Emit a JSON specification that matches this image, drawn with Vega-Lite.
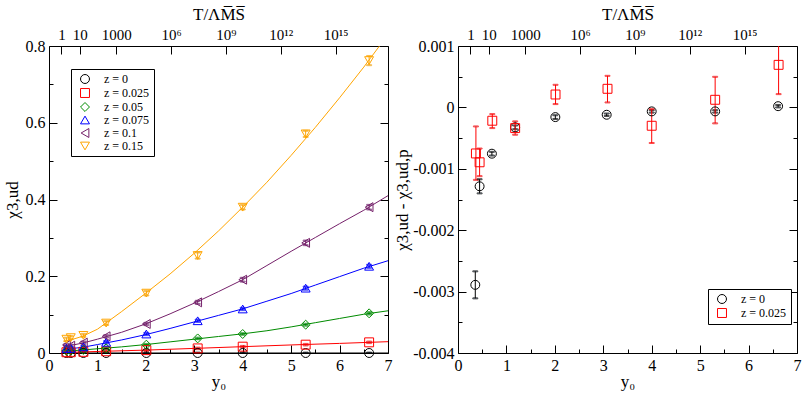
{
  "$schema": "https://vega.github.io/schema/vega-lite/v6.json",
  "padding": {"left": 2, "top": 4, "right": 2, "bottom": 2},
  "spacing": 0,
  "config": {
    "font": "Liberation Serif",
    "view": {"stroke": "#000", "strokeWidth": 1},
    "axis": {
      "grid": false, "domain": false,
      "labelFont": "Liberation Serif", "titleFont": "Liberation Serif",
      "labelFontSize": 16, "titleFontSize": 17, "titleFontWeight": "normal",
      "labelColor": "#000", "titleColor": "#000", "tickColor": "#000", "tickWidth": 1,
      "labelPadding": 12, "labelOverlap": false, "labelFlush": false
    },
    "legend": {
      "strokeColor": "#000", "fillColor": "#fff", "padding": 4, "symbolOffset": 4,
      "labelFont": "Liberation Serif", "labelFontSize": 12, "labelColor": "#000",
      "symbolSize": 80, "symbolStrokeWidth": 1, "rowPadding": 0, "labelOffset": 13,
      "cornerRadius": 0
    }
  },
  "datasets": {
    "ttick": [{"logT": 0}, {"logT": 1}, {"logT": 3}, {"logT": 6}, {"logT": 9}, {"logT": 12}, {"logT": 15}],
    "pts": [
      {"z": 0, "y0": 0.36, "val": 0, "lo": -0.001, "hi": 0.001},
      {"z": 0, "y0": 0.45, "val": 0, "lo": -0.001, "hi": 0.001},
      {"z": 0, "y0": 0.71, "val": 0, "lo": -0.001, "hi": 0.001},
      {"z": 0, "y0": 1.18, "val": 0, "lo": -0.001, "hi": 0.001},
      {"z": 0, "y0": 2.01, "val": 0, "lo": -0.001, "hi": 0.001},
      {"z": 0, "y0": 3.07, "val": 0, "lo": -0.001, "hi": 0.001},
      {"z": 0, "y0": 4.0, "val": 0, "lo": -0.001, "hi": 0.001},
      {"z": 0, "y0": 5.3, "val": 0, "lo": -0.001, "hi": 0.001},
      {"z": 0, "y0": 6.61, "val": 0, "lo": -0.001, "hi": 0.001},
      {"z": 0.025, "y0": 0.36, "val": 0.002, "lo": 0.0, "hi": 0.004},
      {"z": 0.025, "y0": 0.45, "val": 0.002, "lo": 0.0, "hi": 0.004},
      {"z": 0.025, "y0": 0.71, "val": 0.003, "lo": 0.001, "hi": 0.005},
      {"z": 0.025, "y0": 1.18, "val": 0.0045, "lo": 0.0025, "hi": 0.0065},
      {"z": 0.025, "y0": 2.01, "val": 0.0075, "lo": 0.0055, "hi": 0.0095},
      {"z": 0.025, "y0": 3.07, "val": 0.012, "lo": 0.01, "hi": 0.014},
      {"z": 0.025, "y0": 4.0, "val": 0.0165, "lo": 0.0145, "hi": 0.0185},
      {"z": 0.025, "y0": 5.3, "val": 0.0217, "lo": 0.0197, "hi": 0.0237},
      {"z": 0.025, "y0": 6.61, "val": 0.0278, "lo": 0.0258, "hi": 0.0298},
      {"z": 0.05, "y0": 0.36, "val": 0.006, "lo": 0.004, "hi": 0.008},
      {"z": 0.05, "y0": 0.45, "val": 0.006, "lo": 0.004, "hi": 0.008},
      {"z": 0.05, "y0": 0.71, "val": 0.008, "lo": 0.006, "hi": 0.01},
      {"z": 0.05, "y0": 1.18, "val": 0.012, "lo": 0.01, "hi": 0.014},
      {"z": 0.05, "y0": 2.01, "val": 0.0217, "lo": 0.0197, "hi": 0.0237},
      {"z": 0.05, "y0": 3.07, "val": 0.038, "lo": 0.036, "hi": 0.04},
      {"z": 0.05, "y0": 4.0, "val": 0.0495, "lo": 0.0475, "hi": 0.0515},
      {"z": 0.05, "y0": 5.3, "val": 0.0738, "lo": 0.0713, "hi": 0.0763},
      {"z": 0.05, "y0": 6.61, "val": 0.1034, "lo": 0.1004, "hi": 0.1064},
      {"z": 0.075, "y0": 0.36, "val": 0.012, "lo": 0.009, "hi": 0.015},
      {"z": 0.075, "y0": 0.45, "val": 0.012, "lo": 0.009, "hi": 0.015},
      {"z": 0.075, "y0": 0.71, "val": 0.016, "lo": 0.013, "hi": 0.019},
      {"z": 0.075, "y0": 1.18, "val": 0.028, "lo": 0.025, "hi": 0.031},
      {"z": 0.075, "y0": 2.01, "val": 0.0495, "lo": 0.0465, "hi": 0.0525},
      {"z": 0.075, "y0": 3.07, "val": 0.084, "lo": 0.081, "hi": 0.087},
      {"z": 0.075, "y0": 4.0, "val": 0.1147, "lo": 0.1117, "hi": 0.1177},
      {"z": 0.075, "y0": 5.3, "val": 0.169, "lo": 0.165, "hi": 0.173},
      {"z": 0.075, "y0": 6.61, "val": 0.226, "lo": 0.222, "hi": 0.23},
      {"z": 0.1, "y0": 0.36, "val": 0.021, "lo": 0.018, "hi": 0.024},
      {"z": 0.1, "y0": 0.45, "val": 0.019, "lo": 0.016, "hi": 0.022},
      {"z": 0.1, "y0": 0.71, "val": 0.027, "lo": 0.024, "hi": 0.03},
      {"z": 0.1, "y0": 1.18, "val": 0.0435, "lo": 0.0405, "hi": 0.0465},
      {"z": 0.1, "y0": 2.01, "val": 0.0756, "lo": 0.0726, "hi": 0.0786},
      {"z": 0.1, "y0": 3.07, "val": 0.132, "lo": 0.128, "hi": 0.136},
      {"z": 0.1, "y0": 4.0, "val": 0.191, "lo": 0.186, "hi": 0.196},
      {"z": 0.1, "y0": 5.3, "val": 0.287, "lo": 0.281, "hi": 0.293},
      {"z": 0.1, "y0": 6.61, "val": 0.38, "lo": 0.374, "hi": 0.386},
      {"z": 0.15, "y0": 0.36, "val": 0.036, "lo": 0.032, "hi": 0.04},
      {"z": 0.15, "y0": 0.45, "val": 0.04, "lo": 0.036, "hi": 0.044},
      {"z": 0.15, "y0": 0.71, "val": 0.046, "lo": 0.042, "hi": 0.05},
      {"z": 0.15, "y0": 1.18, "val": 0.078, "lo": 0.073, "hi": 0.083},
      {"z": 0.15, "y0": 2.01, "val": 0.156, "lo": 0.15, "hi": 0.162},
      {"z": 0.15, "y0": 3.07, "val": 0.254, "lo": 0.246, "hi": 0.262},
      {"z": 0.15, "y0": 4.0, "val": 0.38, "lo": 0.374, "hi": 0.386},
      {"z": 0.15, "y0": 5.3, "val": 0.571, "lo": 0.563, "hi": 0.579},
      {"z": 0.15, "y0": 6.61, "val": 0.762, "lo": 0.75, "hi": 0.774}
    ],
    "fit": [
      {"z": 0, "y0": 0.3, "fit": 0}, {"z": 0, "y0": 7, "fit": 0},
      {"z": 0.025, "y0": 0.3, "fit": 0.0015}, {"z": 0.025, "y0": 0.5, "fit": 0.002}, {"z": 0.025, "y0": 1.0, "fit": 0.004},
      {"z": 0.025, "y0": 2.0, "fit": 0.0075}, {"z": 0.025, "y0": 3.0, "fit": 0.012}, {"z": 0.025, "y0": 4.0, "fit": 0.0165},
      {"z": 0.025, "y0": 5.0, "fit": 0.021}, {"z": 0.025, "y0": 6.0, "fit": 0.025}, {"z": 0.025, "y0": 7.0, "fit": 0.0295},
      {"z": 0.05, "y0": 0.3, "fit": 0.005}, {"z": 0.05, "y0": 0.5, "fit": 0.006}, {"z": 0.05, "y0": 0.7, "fit": 0.008},
      {"z": 0.05, "y0": 1.0, "fit": 0.011}, {"z": 0.05, "y0": 1.5, "fit": 0.016}, {"z": 0.05, "y0": 2.0, "fit": 0.022},
      {"z": 0.05, "y0": 2.5, "fit": 0.029}, {"z": 0.05, "y0": 3.0, "fit": 0.036}, {"z": 0.05, "y0": 3.5, "fit": 0.043},
      {"z": 0.05, "y0": 4.0, "fit": 0.05}, {"z": 0.05, "y0": 4.5, "fit": 0.058}, {"z": 0.05, "y0": 5.0, "fit": 0.068},
      {"z": 0.05, "y0": 5.5, "fit": 0.079}, {"z": 0.05, "y0": 6.0, "fit": 0.09}, {"z": 0.05, "y0": 6.5, "fit": 0.101},
      {"z": 0.05, "y0": 7.0, "fit": 0.11},
      {"z": 0.075, "y0": 0.3, "fit": 0.01}, {"z": 0.075, "y0": 0.5, "fit": 0.012}, {"z": 0.075, "y0": 0.7, "fit": 0.015},
      {"z": 0.075, "y0": 1.0, "fit": 0.022}, {"z": 0.075, "y0": 1.5, "fit": 0.034}, {"z": 0.075, "y0": 2.0, "fit": 0.048},
      {"z": 0.075, "y0": 2.5, "fit": 0.064}, {"z": 0.075, "y0": 3.0, "fit": 0.081}, {"z": 0.075, "y0": 3.5, "fit": 0.098},
      {"z": 0.075, "y0": 4.0, "fit": 0.115}, {"z": 0.075, "y0": 4.5, "fit": 0.135}, {"z": 0.075, "y0": 5.0, "fit": 0.155},
      {"z": 0.075, "y0": 5.5, "fit": 0.177}, {"z": 0.075, "y0": 6.0, "fit": 0.199}, {"z": 0.075, "y0": 6.5, "fit": 0.221},
      {"z": 0.075, "y0": 7.0, "fit": 0.2405},
      {"z": 0.1, "y0": 0.3, "fit": 0.018}, {"z": 0.1, "y0": 0.5, "fit": 0.021}, {"z": 0.1, "y0": 0.7, "fit": 0.026},
      {"z": 0.1, "y0": 1.0, "fit": 0.036}, {"z": 0.1, "y0": 1.5, "fit": 0.054}, {"z": 0.1, "y0": 2.0, "fit": 0.076},
      {"z": 0.1, "y0": 2.5, "fit": 0.102}, {"z": 0.1, "y0": 3.0, "fit": 0.13}, {"z": 0.1, "y0": 3.5, "fit": 0.16},
      {"z": 0.1, "y0": 4.0, "fit": 0.191}, {"z": 0.1, "y0": 4.5, "fit": 0.228}, {"z": 0.1, "y0": 5.0, "fit": 0.265},
      {"z": 0.1, "y0": 5.5, "fit": 0.301}, {"z": 0.1, "y0": 6.0, "fit": 0.337}, {"z": 0.1, "y0": 6.5, "fit": 0.372},
      {"z": 0.1, "y0": 7.0, "fit": 0.41},
      {"z": 0.15, "y0": 0.3, "fit": 0.03}, {"z": 0.15, "y0": 0.5, "fit": 0.036}, {"z": 0.15, "y0": 0.7, "fit": 0.044},
      {"z": 0.15, "y0": 1.0, "fit": 0.062}, {"z": 0.15, "y0": 1.5, "fit": 0.108}, {"z": 0.15, "y0": 2.0, "fit": 0.156},
      {"z": 0.15, "y0": 2.5, "fit": 0.206}, {"z": 0.15, "y0": 3.0, "fit": 0.26}, {"z": 0.15, "y0": 3.5, "fit": 0.318},
      {"z": 0.15, "y0": 4.0, "fit": 0.38}, {"z": 0.15, "y0": 4.5, "fit": 0.445}, {"z": 0.15, "y0": 5.0, "fit": 0.515},
      {"z": 0.15, "y0": 5.5, "fit": 0.588}, {"z": 0.15, "y0": 6.0, "fit": 0.665}, {"z": 0.15, "y0": 6.5, "fit": 0.745},
      {"z": 0.15, "y0": 7.0, "fit": 0.83}
    ],
    "diff": [
      {"z": 0, "y0": 0.357, "d": -0.00289, "lo": -0.00311, "hi": -0.00267},
      {"z": 0, "y0": 0.446, "d": -0.001285, "lo": -0.0014, "hi": -0.00117},
      {"z": 0, "y0": 0.70, "d": -0.000754, "lo": -0.000784, "hi": -0.000724},
      {"z": 0, "y0": 1.18, "d": -0.000325, "lo": -0.000355, "hi": -0.000295},
      {"z": 0, "y0": 2.01, "d": -0.000158, "lo": -0.000188, "hi": -0.000128},
      {"z": 0, "y0": 3.07, "d": -0.00012, "lo": -0.00014, "hi": -0.0001},
      {"z": 0, "y0": 4.0, "d": -0.000065, "lo": -0.000085, "hi": -0.000045},
      {"z": 0, "y0": 5.31, "d": -0.000065, "lo": -0.000085, "hi": -0.000045},
      {"z": 0, "y0": 6.61, "d": 0.00002, "lo": 0.0, "hi": 0.00004},
      {"z": 0.025, "y0": 0.37, "d": -0.00075, "lo": -0.00118, "hi": -0.00031},
      {"z": 0.025, "y0": 0.446, "d": -0.000894, "lo": -0.00112, "hi": -0.00067},
      {"z": 0.025, "y0": 0.708, "d": -0.000217, "lo": -0.000337, "hi": -0.000109},
      {"z": 0.025, "y0": 1.18, "d": -0.000337, "lo": -0.000445, "hi": -0.000228},
      {"z": 0.025, "y0": 2.014, "d": 0.00021, "lo": 0.000054, "hi": 0.000368},
      {"z": 0.025, "y0": 3.087, "d": 0.000303, "lo": 0.000081, "hi": 0.000514},
      {"z": 0.025, "y0": 4.0, "d": -0.000299, "lo": -0.00058, "hi": -0.000028},
      {"z": 0.025, "y0": 5.31, "d": 0.000124, "lo": -0.00026, "hi": 0.000498},
      {"z": 0.025, "y0": 6.62, "d": 0.000693, "lo": 0.000216, "hi": 0.00117}
    ]
  },
  "resolve": {"scale": {"color": "independent", "shape": "independent", "stroke": "independent"}},
  "hconcat": [
    {
      "width": 339, "height": 307,
      "layer": [
        {
          "data": {"name": "ttick"},
          "mark": {"type": "rule", "opacity": 0},
          "encoding": {
            "x": {"field": "logT", "type": "quantitative",
              "scale": {"domain": [-0.678, 17.86], "nice": false, "zero": false},
              "axis": {"orient": "top", "values": [0, 1, 3, 6, 9, 12, 15], "tickSize": -8, "labelFontSize": 15,
                "labelExpr": "datum.value == 0 ? '1' : datum.value == 1 ? '10' : datum.value == 3 ? '1000' : datum.value == 6 ? '10⁶' : datum.value == 9 ? '10⁹' : datum.value == 12 ? '10¹²' : '10¹⁵'",
                "title": "T/ΛM̅S̅", "titlePadding": 4}}
          }
        },
        {
          "layer": [
            {
              "data": {"name": "pts"},
              "mark": {"type": "point", "opacity": 0},
              "encoding": {
                "x": {"field": "y0", "type": "quantitative", "scale": {"domain": [0, 7], "nice": false, "zero": false},
                  "axis": {"orient": "bottom", "values": [0, 1, 2, 3, 4, 5, 6, 7], "tickSize": -8, "format": "d", "title": "y₀", "titlePadding": 0}},
                "y": {"field": "val", "type": "quantitative", "scale": {"domain": [0, 0.8], "nice": false, "zero": false},
                  "axis": {"orient": "left", "values": [0, 0.2, 0.4, 0.6, 0.8], "tickSize": -8,
                    "labelExpr": "datum.value == 0 ? '0' : format(datum.value, '.1f')", "title": "χ3,ud", "titlePadding": 4}}
              }
            },
            {
              "data": {"name": "pts"},
              "mark": {"type": "point", "opacity": 0},
              "encoding": {
                "x": {"field": "y0", "type": "quantitative", "scale": {"domain": [0, 7], "nice": false, "zero": false},
                  "axis": {"orient": "bottom", "values": [0.5, 1.5, 2.5, 3.5, 4.5, 5.5, 6.5], "tickSize": -4, "labels": false, "title": null}},
                "y": {"field": "val", "type": "quantitative", "scale": {"domain": [0, 0.8], "nice": false, "zero": false},
                  "axis": {"orient": "left", "values": [0.1, 0.3, 0.5, 0.7], "tickSize": -4, "labels": false, "title": null}}
              }
            },
            {
              "data": {"name": "pts"},
              "mark": {"type": "point", "opacity": 0},
              "encoding": {
                "x": {"field": "y0", "type": "quantitative", "scale": {"domain": [0, 7], "nice": false, "zero": false}, "axis": null},
                "y": {"field": "val", "type": "quantitative", "scale": {"domain": [0, 0.8], "nice": false, "zero": false},
                  "axis": {"orient": "right", "values": [0, 0.2, 0.4, 0.6, 0.8], "tickSize": -8, "labels": false, "title": null}}
              }
            },
            {
              "data": {"name": "pts"},
              "mark": {"type": "point", "opacity": 0},
              "encoding": {
                "x": {"field": "y0", "type": "quantitative", "scale": {"domain": [0, 7], "nice": false, "zero": false}, "axis": null},
                "y": {"field": "val", "type": "quantitative", "scale": {"domain": [0, 0.8], "nice": false, "zero": false},
                  "axis": {"orient": "right", "values": [0.1, 0.3, 0.5, 0.7], "tickSize": -4, "labels": false, "title": null}}
              }
            },
            {
              "data": {"name": "fit"},
              "mark": {"type": "line", "clip": true, "strokeWidth": 1},
              "encoding": {
                "x": {"field": "y0", "type": "quantitative", "scale": {"domain": [0, 7], "nice": false, "zero": false}, "axis": null},
                "y": {"field": "fit", "type": "quantitative", "scale": {"domain": [0, 0.8], "nice": false, "zero": false}, "axis": null},
                "stroke": {"field": "z", "type": "nominal", "legend": null,
                  "scale": {"domain": [0.15, 0.1, 0.075, 0.05, 0.025, 0], "range": ["#ffa500", "#75206a", "#0000ff", "#008b00", "#ff0000", "#000000"]}}
              }
            },
            {
              "data": {"name": "pts"},
              "mark": {"type": "errorbar", "ticks": true, "clip": true},
              "encoding": {
                "x": {"field": "y0", "type": "quantitative", "scale": {"domain": [0, 7], "nice": false, "zero": false}, "axis": null},
                "y": {"field": "lo", "type": "quantitative", "scale": {"domain": [0, 0.8], "nice": false, "zero": false}, "axis": null},
                "y2": {"field": "hi"},
                "stroke": {"field": "z", "type": "nominal", "legend": null,
                  "scale": {"domain": [0.15, 0.1, 0.075, 0.05, 0.025, 0], "range": ["#ffa500", "#75206a", "#0000ff", "#008b00", "#ff0000", "#000000"]}}
              }
            },
            {
              "data": {"name": "pts"},
              "mark": {"type": "point", "filled": false, "size": 80, "strokeWidth": 1, "opacity": 1},
              "encoding": {
                "x": {"field": "y0", "type": "quantitative", "scale": {"domain": [0, 7], "nice": false, "zero": false}, "axis": null},
                "y": {"field": "val", "type": "quantitative", "scale": {"domain": [0, 0.8], "nice": false, "zero": false}, "axis": null},
                "color": {"field": "z", "type": "nominal",
                  "scale": {"domain": [0, 0.025, 0.05, 0.075, 0.1, 0.15], "range": ["#000000", "#ff0000", "#008b00", "#0000ff", "#75206a", "#ffa500"]},
                  "legend": {"orient": "none", "legendX": 22, "legendY": 23, "title": null, "labelExpr": "'z = ' + datum.label"}},
                "shape": {"field": "z", "type": "nominal",
                  "scale": {"domain": [0, 0.025, 0.05, 0.075, 0.1, 0.15], "range": ["circle", "square", "diamond", "triangle-up", "triangle-left", "triangle-down"]},
                  "legend": {"orient": "none", "legendX": 22, "legendY": 23, "title": null, "labelExpr": "'z = ' + datum.label"}}
              }
            }
          ],
          "resolve": {"axis": {"x": "independent", "y": "independent"}}
        }
      ],
      "resolve": {"scale": {"x": "independent"}}
    },
    {
      "width": 339, "height": 307,
      "layer": [
        {
          "data": {"name": "ttick"},
          "mark": {"type": "rule", "opacity": 0},
          "encoding": {
            "x": {"field": "logT", "type": "quantitative",
              "scale": {"domain": [-0.678, 17.86], "nice": false, "zero": false},
              "axis": {"orient": "top", "values": [0, 1, 3, 6, 9, 12, 15], "tickSize": -8, "labelFontSize": 15,
                "labelExpr": "datum.value == 0 ? '1' : datum.value == 1 ? '10' : datum.value == 3 ? '1000' : datum.value == 6 ? '10⁶' : datum.value == 9 ? '10⁹' : datum.value == 12 ? '10¹²' : '10¹⁵'",
                "title": "T/ΛM̅S̅", "titlePadding": 4}}
          }
        },
        {
          "layer": [
            {
              "data": {"name": "diff"},
              "mark": {"type": "point", "opacity": 0},
              "encoding": {
                "x": {"field": "y0", "type": "quantitative", "scale": {"domain": [0, 7], "nice": false, "zero": false},
                  "axis": {"orient": "bottom", "values": [0, 1, 2, 3, 4, 5, 6, 7], "tickSize": -8, "format": "d", "title": "y₀", "titlePadding": 0}},
                "y": {"field": "d", "type": "quantitative", "scale": {"domain": [-0.004, 0.001], "nice": false, "zero": false},
                  "axis": {"orient": "left", "values": [-0.004, -0.003, -0.002, -0.001, 0, 0.001], "tickSize": -8,
                    "labelExpr": "datum.value == 0 ? '0' : replace(format(datum.value, '.3f'), '−', '-')", "title": "χ3,ud - χ3,ud,p", "titlePadding": 1}}
              }
            },
            {
              "data": {"name": "diff"},
              "mark": {"type": "point", "opacity": 0},
              "encoding": {
                "x": {"field": "y0", "type": "quantitative", "scale": {"domain": [0, 7], "nice": false, "zero": false},
                  "axis": {"orient": "bottom", "values": [0.5, 1.5, 2.5, 3.5, 4.5, 5.5, 6.5], "tickSize": -4, "labels": false, "title": null}},
                "y": {"field": "d", "type": "quantitative", "scale": {"domain": [-0.004, 0.001], "nice": false, "zero": false},
                  "axis": {"orient": "left", "values": [-0.0035, -0.0025, -0.0015, -0.0005, 0.0005], "tickSize": -4, "labels": false, "title": null}}
              }
            },
            {
              "data": {"name": "diff"},
              "mark": {"type": "point", "opacity": 0},
              "encoding": {
                "x": {"field": "y0", "type": "quantitative", "scale": {"domain": [0, 7], "nice": false, "zero": false}, "axis": null},
                "y": {"field": "d", "type": "quantitative", "scale": {"domain": [-0.004, 0.001], "nice": false, "zero": false},
                  "axis": {"orient": "right", "values": [-0.004, -0.003, -0.002, -0.001, 0, 0.001], "tickSize": -8, "labels": false, "title": null}}
              }
            },
            {
              "data": {"name": "diff"},
              "mark": {"type": "point", "opacity": 0},
              "encoding": {
                "x": {"field": "y0", "type": "quantitative", "scale": {"domain": [0, 7], "nice": false, "zero": false}, "axis": null},
                "y": {"field": "d", "type": "quantitative", "scale": {"domain": [-0.004, 0.001], "nice": false, "zero": false},
                  "axis": {"orient": "right", "values": [-0.0035, -0.0025, -0.0015, -0.0005, 0.0005], "tickSize": -4, "labels": false, "title": null}}
              }
            },
            {
              "data": {"name": "diff"},
              "mark": {"type": "errorbar", "ticks": true, "clip": true},
              "encoding": {
                "x": {"field": "y0", "type": "quantitative", "scale": {"domain": [0, 7], "nice": false, "zero": false}, "axis": null},
                "y": {"field": "lo", "type": "quantitative", "scale": {"domain": [-0.004, 0.001], "nice": false, "zero": false}, "axis": null},
                "y2": {"field": "hi"},
                "stroke": {"field": "z", "type": "nominal", "legend": null,
                  "scale": {"domain": [0.025, 0], "range": ["#ff0000", "#000000"]}}
              }
            },
            {
              "data": {"name": "diff"},
              "mark": {"type": "point", "filled": false, "size": 80, "strokeWidth": 1, "opacity": 1},
              "encoding": {
                "x": {"field": "y0", "type": "quantitative", "scale": {"domain": [0, 7], "nice": false, "zero": false}, "axis": null},
                "y": {"field": "d", "type": "quantitative", "scale": {"domain": [-0.004, 0.001], "nice": false, "zero": false}, "axis": null},
                "color": {"field": "z", "type": "nominal",
                  "scale": {"domain": [0, 0.025], "range": ["#000000", "#ff0000"]},
                  "legend": {"orient": "none", "legendX": 250, "legendY": 243, "title": null, "labelExpr": "'z = ' + datum.label"}},
                "shape": {"field": "z", "type": "nominal",
                  "scale": {"domain": [0, 0.025], "range": ["circle", "square"]},
                  "legend": {"orient": "none", "legendX": 250, "legendY": 243, "title": null, "labelExpr": "'z = ' + datum.label"}}
              }
            }
          ],
          "resolve": {"axis": {"x": "independent", "y": "independent"}}
        }
      ],
      "resolve": {"scale": {"x": "independent"}}
    }
  ]
}
